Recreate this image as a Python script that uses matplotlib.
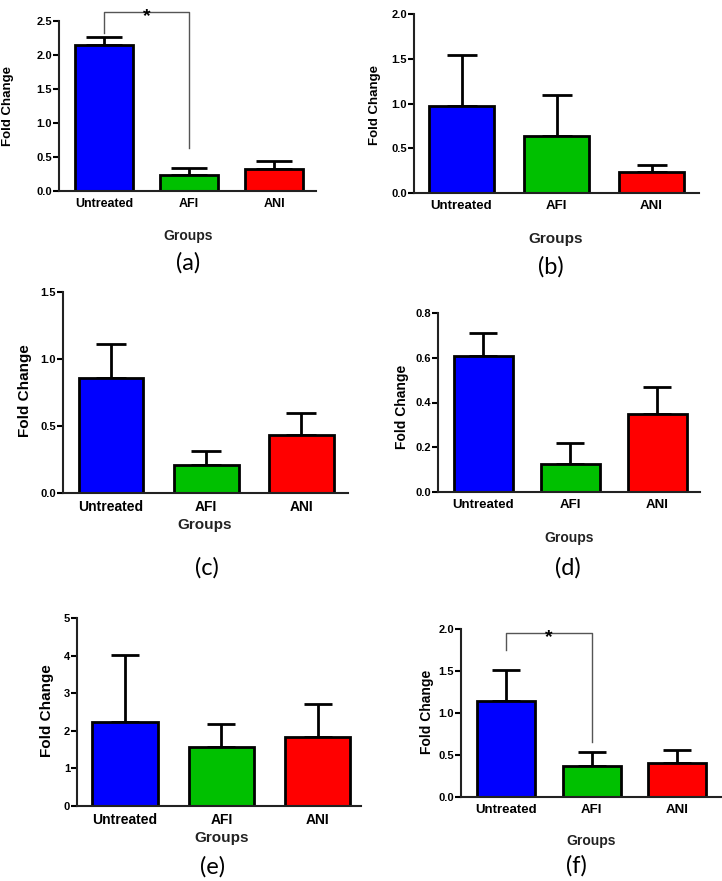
import matplotlib
matplotlib.use("Agg")
import matplotlib.pyplot as plt
import numpy as np

## data
groups = ["Untreated", "AFI", "ANI"]
colors = ["#0000FF", "#00C000", "#FF0000"]

mean_a = [2.14, 0.23, 0.33]
err_a = [0.12, 0.11, 0.11]
mean_b = [0.97, 0.64, 0.23]
err_b = [0.57, 0.46, 0.08]
mean_c = [0.86, 0.21, 0.43]
err_c = [0.25, 0.10, 0.17]
mean_d = [0.61, 0.125, 0.35]
err_d = [0.10, 0.095, 0.12]
mean_e = [2.23, 1.57, 1.84]
err_e = [1.79, 0.61, 0.86]
mean_f = [1.14, 0.37, 0.41]
err_f = [0.37, 0.17, 0.15]

yticks_a = [0, 0.5, 1.0, 1.5, 2.0, 2.5]
yticks_b = [0, 0.5, 1.0, 1.5, 2.0]
yticks_c = [0, 0.5, 1.0, 1.5]
yticks_d = [0, 0.2, 0.4, 0.6, 0.8]
yticks_e = [0, 1, 2, 3, 4, 5]
yticks_f = [0, 0.5, 1.0, 1.5, 2.0]

## significance brackets: (left y, top y, right y)
bracket_a = [2.32, 2.63, 0.63]
bracket_f = [1.75, 1.95, 0.65]

W, H = 722, 881
fig = plt.figure(figsize=(W / 100, H / 100), dpi=100)
fig.patch.set_facecolor("white")

TICKFONT = "Liberation Sans"


def px(x, y):
	return x / W, 1 - y / H


def panel(x0, x1, y0, ytop, xlim, means, errs, yticks, fmt, capsize, xsize=9):
	ax = fig.add_axes([x0 / W, 1 - y0 / H, (x1 - x0) / W, (y0 - ytop) / H])
	x = np.arange(len(groups))
	ax.bar(x, means, width=0.68, color=colors, edgecolor="black", linewidth=2, zorder=2)
	ax.errorbar(x, means, yerr=[np.zeros(len(errs)), errs], fmt="none", ecolor="black",
				elinewidth=2, capsize=capsize, capthick=2, zorder=1)
	ax.set_xlim(xlim)
	ax.set_ylim(yticks[0], yticks[-1])
	ax.set_yticks(yticks)
	ax.set_yticklabels([fmt % v for v in yticks], fontsize=8, fontweight="bold", family=TICKFONT)
	ax.set_xticks(x)
	ax.set_xticklabels(groups, fontsize=xsize, fontweight="bold", family=TICKFONT)
	ax.tick_params(axis="x", length=0, pad=5)
	ax.tick_params(axis="y", length=4, width=1.5, direction="out", pad=1)
	for s in ["top", "right"]:
		ax.spines[s].set_visible(False)
	for s in ["left", "bottom"]:
		ax.spines[s].set_linewidth(1.5)
		ax.spines[s].set_color("#222222")
	return ax


def labels(ylab_xy, groups_xy, tag_xy, ysize=9.5, gsize=10):
	fig.text(*px(*ylab_xy), "Fold Change", rotation=90, ha="center", va="center",
			 fontsize=ysize, fontweight="bold", family=TICKFONT)
	fig.text(*px(*groups_xy), "Groups", ha="center", va="center",
			 fontsize=gsize, fontweight="bold", family=TICKFONT, color="#222222")
	fig.text(*px(*tag_xy[1:]), tag_xy[0], ha="center", va="center",
			 fontsize=17, family="Lato")


def bracket(ax, b):
	ax.plot([0, 0, 1, 1], [b[0], b[1], b[1], b[2]], color="#555555", linewidth=1, clip_on=False)
	## star sits right on the bracket line
	ax.annotate("*", xy=(0.5, b[1]), xytext=(0, -6.5), textcoords="offset points",
				ha="center", va="baseline", fontsize=14, fontweight="bold",
				family=TICKFONT, annotation_clip=False)


# (a)
ax_a = panel(59, 316, 191, 21, (-0.53, 2.49), mean_a, err_a, yticks_a, "%.1f", 13)
bracket(ax_a, bracket_a)
labels((8, 106), (188, 236), ("(a)", 188, 263))

# (b)
ax_b = panel(414, 699, 193, 14, (-0.5, 2.5), mean_b, err_b, yticks_b, "%.1f", 11, xsize=9.5)
labels((375, 105), (556, 239), ("(b)", 551, 267), ysize=9.5, gsize=11)

# (c)
ax_c = panel(63, 348, 493, 292, (-0.505, 2.49), mean_c, err_c, yticks_c, "%.1f", 11, xsize=10)
labels((25, 391), (205, 525), ("(c)", 207, 568), ysize=11, gsize=11)

# (d)
ax_d = panel(438, 700, 492, 313, (-0.52, 2.49), mean_d, err_d, yticks_d, "%.1f", 10, xsize=9.5)
labels((402, 407), (569, 538), ("(d)", 568, 568), ysize=10, gsize=10)

# (e)
ax_e = panel(77, 361, 806, 618, (-0.5, 2.45), mean_e, err_e, yticks_e, "%d", 10, xsize=10)
labels((47, 711), (222, 838), ("(e)", 213, 867), ysize=11, gsize=11)

# (f)
ax_f = panel(461, 721, 797, 629, (-0.53, 2.51), mean_f, err_f, yticks_f, "%.1f", 10, xsize=9.5)
bracket(ax_f, bracket_f)
labels((427, 712), (591, 841), ("(f)", 576, 866), ysize=10, gsize=10)

plt.savefig("out.png", dpi=100, facecolor="white")
